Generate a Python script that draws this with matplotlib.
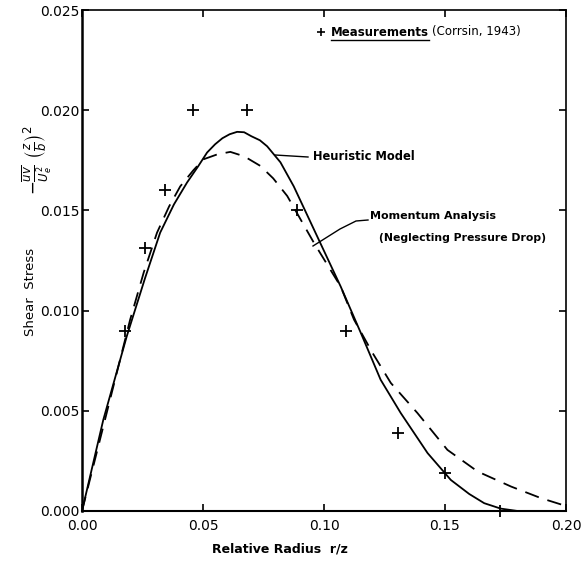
import matplotlib
matplotlib.use("Agg")
import matplotlib.pyplot as plt

# ---- data ----
heuristic_x = [0.0, 0.0088, 0.0185, 0.0260, 0.0323, 0.0380, 0.0434, 0.0480, 0.0517, 0.0550,
               0.058, 0.0610, 0.0641, 0.0670, 0.070, 0.0735, 0.0765, 0.0820, 0.0875, 0.0972,
               0.1069, 0.1152, 0.1234, 0.1317, 0.1428, 0.1524, 0.1600, 0.1662, 0.1730, 0.1800]
heuristic_y = [0.0, 0.00455, 0.00872, 0.0116, 0.01389, 0.0153, 0.01639, 0.0172, 0.01789, 0.0183,
               0.0186, 0.0188, 0.01892, 0.0189, 0.0187, 0.0185, 0.0182, 0.0174, 0.0162, 0.0137,
               0.0112, 0.00889, 0.00655, 0.00489, 0.00289, 0.00155, 0.00085, 0.00039, 0.00012, 0.0]

momentum_x = [0.0, 0.0102, 0.0199, 0.0255, 0.0310, 0.0360, 0.0406, 0.0460, 0.0502, 0.056,
              0.0613, 0.067, 0.0737, 0.0790, 0.0848, 0.0958, 0.1069, 0.1124, 0.1200, 0.1276,
              0.1386, 0.1510, 0.1635, 0.1773, 0.1897, 0.2000]
momentum_y = [0.0, 0.00489, 0.00955, 0.0119, 0.01389, 0.0152, 0.0162, 0.0170, 0.01755, 0.0178,
              0.01792, 0.0177, 0.01722, 0.0166, 0.01572, 0.01339, 0.0112, 0.00955, 0.0079,
              0.00639, 0.00489, 0.00305, 0.00197, 0.00122, 0.00064, 0.00025]

meas_x = [0.0178, 0.0261, 0.0345, 0.0459, 0.0682, 0.0887, 0.1090, 0.1306, 0.1501, 0.1729]
meas_y = [0.0090, 0.0131, 0.0160, 0.0200, 0.0200, 0.0150, 0.0090, 0.0039, 0.0019, 0.0000]

xticks = [0.00, 0.05, 0.10, 0.15, 0.20]
xtick_labels = ["0.00", "0.05", "0.10", "0.15", "0.20"]
yticks = [0.000, 0.005, 0.010, 0.015, 0.020, 0.025]
ytick_labels = ["0.000", "0.005", "0.010", "0.015", "0.020", "0.025"]

plt.rcParams['font.family'] = ['DejaVu Sans']

W, H = 581, 561
fig = plt.figure(figsize=(W / 100, H / 100), dpi=100)
L, R, T, B = 82, 566, 10, 511
ax = fig.add_axes([L / W, 1 - B / H, (R - L) / W, (B - T) / H])

ax.plot(heuristic_x, heuristic_y, color='black', lw=1.3)
ax.plot(momentum_x, momentum_y, color='black', lw=1.3, dashes=(8, 5))
ax.plot(meas_x, meas_y, ls='none', marker='+', ms=9, mew=1.3, color='black', clip_on=False)

ax.set_xlim(0.0, 0.20)
ax.set_ylim(0.0, 0.025)
ax.set_xticks(xticks)
ax.set_xticklabels(xtick_labels)
ax.set_yticks(yticks)
ax.set_yticklabels(ytick_labels)
ax.tick_params(direction='in', length=5, width=1.2, top=True, right=True,
               labelsize=10, colors='black')
ax.tick_params(axis='x', pad=6)
ax.tick_params(axis='y', pad=2)
for s in ax.spines.values():
    s.set_linewidth(1.2)
ax.spines['left'].set_linewidth(1.8)
ax.spines['bottom'].set_linewidth(1.5)

def px2d(px, py):
    return ((px - L) / (R - L) * 0.20, (B - py) / (B - T) * 0.025)

# legend
lx, ly = px2d(321, 32)
ax.plot([lx], [ly], marker='+', ms=6, mew=1.2, color='black')
tx, ty = px2d(331, 32)
t_meas = ax.text(tx, ty, "Measurements", fontsize=8.5, fontweight='bold', va='center', ha='left')

# annotations
hx, hy = px2d(313, 156)
ax.text(hx, hy, "Heuristic Model", fontsize=8.3, fontweight='bold', va='center', ha='left')
a0 = px2d(275, 155); a1 = px2d(308, 157)
ax.plot([a0[0], a1[0]], [a0[1], a1[1]], color='black', lw=1.0)

mx, my = px2d(370, 216)
ax.text(mx, my, "Momentum Analysis", fontsize=8, fontweight='bold', va='center', ha='left')
nx, ny = px2d(379, 238)
ax.text(nx, ny, "(Neglecting Pressure Drop)", fontsize=7.8, fontweight='bold', va='center', ha='left')
lead = [px2d(313, 246), px2d(340, 229), px2d(356, 221), px2d(368, 220)]
ax.plot([p[0] for p in lead], [p[1] for p in lead], color='black', lw=1.0)

# axis labels
fig.text(280 / W, 1 - 549 / H, "Relative Radius  r/z", fontsize=9, fontweight='bold',
         ha='center', va='center')
fig.text(31 / W, 1 - 292 / H, "Shear  Stress", fontsize=9.5, rotation=90,
         ha='center', va='center')
fig.text(37 / W, 1 - 160 / H,
         r'$-\frac{\overline{uv}}{U_e^2}\ \left(\frac{z}{b}\right)^2$',
         fontsize=12, rotation=90, ha='center', va='center')

# underline Measurements, then the citation right after it
fig.canvas.draw()
rend = fig.canvas.get_renderer()
bb = t_meas.get_window_extent(renderer=rend)
inv = fig.transFigure.inverted()
(x0, y0) = inv.transform((bb.x0, bb.y0 - 1))
(x1, _) = inv.transform((bb.x1, bb.y0 - 1))
fig.add_artist(plt.Line2D([x0, x1], [y0, y0], color='black', lw=1.0, transform=fig.transFigure))
fig.text(x1 + 3 / W, 1 - 32 / H, "(Corrsin, 1943)", fontsize=8.5, va='center', ha='left')

fig.savefig("out.png", dpi=100)
